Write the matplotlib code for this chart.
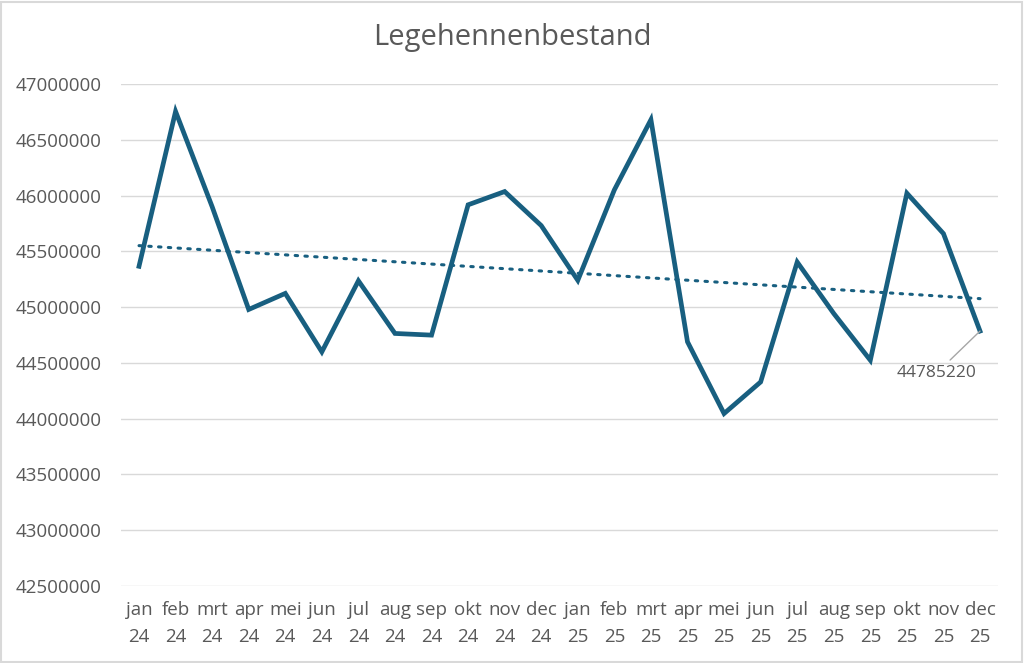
import numpy as np
import matplotlib
matplotlib.use("Agg")
import matplotlib.pyplot as plt
from matplotlib.patches import Rectangle

# maandlabels en waarden
months = ["jan", "feb", "mrt", "apr", "mei", "jun", "jul", "aug", "sep", "okt", "nov", "dec"]
years = ["24"] * 12 + ["25"] * 12
labels = [f"{m}\n{y}" for m, y in zip(months * 2, years)]
values = [45366000, 46754000, 45900000, 44979000, 45123000, 44599000,
          45236000, 44764000, 44749000, 45917000, 46036000, 45731000,
          45240000, 46051000, 46680000, 44689000, 44046000, 44329000,
          45404000, 44943000, 44524000, 46021000, 45659000, 44785220]
y_ticks = [42500000, 43000000, 43500000, 44000000, 44500000,
           45000000, 45500000, 46000000, 46500000, 47000000]

plt.rcParams["font.family"] = ["Open Sans", "DejaVu Sans"]
text_color = "#595959"
line_color = "#185F80"

fig = plt.figure(figsize=(10.24, 6.63), dpi=100)
ax = fig.add_axes([0.1179, 0.1161, 0.857, 0.7572])

x = np.arange(len(values))
ax.plot(x, values, color=line_color, linewidth=3.4, solid_joinstyle="miter", zorder=3)

# lineaire trendlijn
coef = np.polyfit(x, values, 1)
ax.plot(x, np.polyval(coef, x), color=line_color, linewidth=2.2, linestyle=(0, (0.8, 2.4)),
        dash_capstyle="round", zorder=2)

ax.annotate(f"{values[-1]}", xy=(x[-1], values[-1]), xytext=(-31, -30), textcoords="offset points",
            fontsize=12.5, color=text_color, ha="center", va="center",
            arrowprops=dict(arrowstyle="-", color="#A6A6A6", lw=1, shrinkA=2, shrinkB=0))

ax.set_xlim(-0.5, len(values) - 0.5)
ax.set_ylim(42500000, 47000000)
ax.set_yticks(y_ticks)
ax.set_yticklabels([str(v) for v in y_ticks])
ax.set_xticks(x)
ax.set_xticklabels(labels, linespacing=1.6)
ax.tick_params(axis="both", length=0, colors=text_color, labelsize=13.5)
ax.tick_params(axis="x", pad=11)
ax.tick_params(axis="y", pad=14)
ax.grid(axis="y", color="#D9D9D9", linewidth=1)
ax.set_axisbelow(True)
for s in ax.spines.values():
    s.set_visible(False)

fig.text(0.5, 0.943, "Legehennenbestand", ha="center", va="center", fontsize=21, color=text_color)

fig.patches.append(Rectangle((0.001, 0.0015), 0.997, 0.996, transform=fig.transFigure,
                             fill=False, edgecolor="#D9D9D9", linewidth=1.5))

fig.savefig("out.png", dpi=100)
